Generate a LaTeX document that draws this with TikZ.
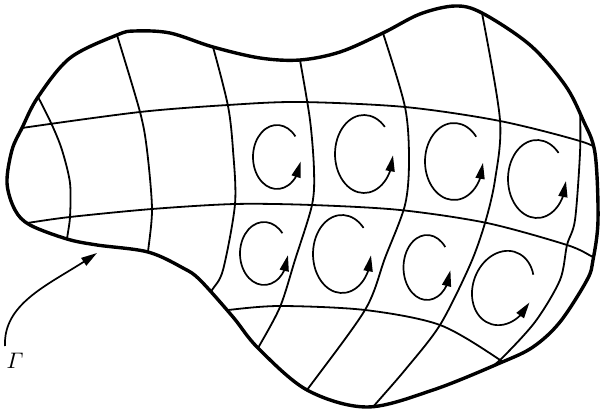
\documentclass[tikz,border=0pt]{standalone}
\usepackage{amsmath}
\usetikzlibrary{arrows.meta,bending}
\newcommand\carrow[7]{%
  \begin{scope}[shift={(#1,#2)},rotate=#5]
    \draw[circarr] (#6:#3 and #4) arc[start angle=#6,end angle=#7,x radius=#3,y radius=#4];
  \end{scope}}
\begin{document}
\begin{tikzpicture}[x=1pt,y=-1pt,
  gridline/.style={line width=1.8pt, line join=round},
  rim/.style={line width=3.4pt, line join=round},
  circarr/.style={line width=1.7pt, -{Triangle[length=16pt,width=9pt]}},
  pointer/.style={line width=1.7pt, -{Triangle[length=16pt,width=9pt]}},
]
\useasboundingbox (0,0) rectangle (600,414);
\def\outline{plot[smooth cycle, tension=0.55] coordinates {
  (7,183) (12,150) (22,128) (38,97) (70,58) (117,35) (135,31) (170,33)
  (213,47) (260,58) (300,60) (340,52) (383,33) (420,14) (455,6) (482,13)
  (530,45) (565,85) (583,120) (595,153) (598,220) (593,260) (587,280)
  (560,322) (533,347) (500,363) (433,390) (367,407) (307,390) (258,348)
  (233,317) (200,280) (183,268) (148,252) (97,245) (67,239) (30,225) (15,210)}}
\begin{scope}
  \clip \outline;
  % horizontal curves
  \draw[gridline] plot[smooth] coordinates {(5,132) (22,128) (140,112) (228,105) (300,102) (405,107) (500,121) (583,142) (610,156)};
  \draw[gridline] plot[smooth] coordinates {(5,226) (27,223) (70,217) (152,209) (235,204) (312,205) (400,210) (487,223) (567,245) (593,257) (610,265)};
  \draw[gridline] plot[smooth] coordinates {(210,313) (228,310) (280,306) (365,310) (440,325) (500,360) (515,375)};
  % vertical curves
  \draw[gridline] plot[smooth] coordinates {(30,85) (38,97) (52,125) (62,150) (70,183) (70,217) (67,239) (66,255)};
  \draw[gridline] plot[smooth] coordinates {(112,20) (117,35) (140,112) (147,150) (152,209) (148,252) (147,265)};
  \draw[gridline] plot[smooth] coordinates {(208,35) (213,47) (228,106) (233,150) (235,204) (223,270) (212,290) (205,300)};
  \draw[gridline] plot[smooth] coordinates {(297,45) (300,60) (310,120) (314,170) (312,205) (295,260) (280,307) (258,348) (250,360)};
  \draw[gridline] plot[smooth] coordinates {(378,20) (383,33) (405,107) (409,160) (405,205) (385,258) (365,310) (307,390) (300,400)};
  \draw[gridline] plot[smooth] coordinates {(478,0) (482,13) (500,120) (495,180) (485,223) (470,265) (440,325) (405,370) (373,407) (365,418)};
  \draw[gridline] plot[smooth] coordinates {(578,95) (580,110) (580,153) (575,220) (567,245) (560,280) (535,322) (500,360) (480,375) (470,385)};
\end{scope}
\draw[rim] \outline;
% circulation arrows
\carrow{277}{157}{24}{32}{0}{-40}{-352}
\carrow{364}{154}{29}{39}{0}{-44}{-358}
\carrow{454}{161.5}{29}{38.5}{0}{-40}{-358}
\carrow{537}{179}{29}{39}{0}{-42}{-357}
\carrow{264}{253.5}{24}{31.5}{0}{-40}{-357}
\carrow{342}{254}{29}{39}{0}{-42}{-358}
\carrow{427}{267.5}{23.5}{32.5}{0}{-39}{-355}
\carrow{503}{288}{30}{38}{-20}{-37}{-353}
% label
\node[inner sep=0pt, scale=2.25] (gamma) at (15,361) {$\varGamma$};
\coordinate (g0) at (5,346);
\coordinate (g1) at (97,253);
\draw[pointer] (g0) .. controls (3,300) and (56,282) .. (g1);
\end{tikzpicture}
\end{document}
